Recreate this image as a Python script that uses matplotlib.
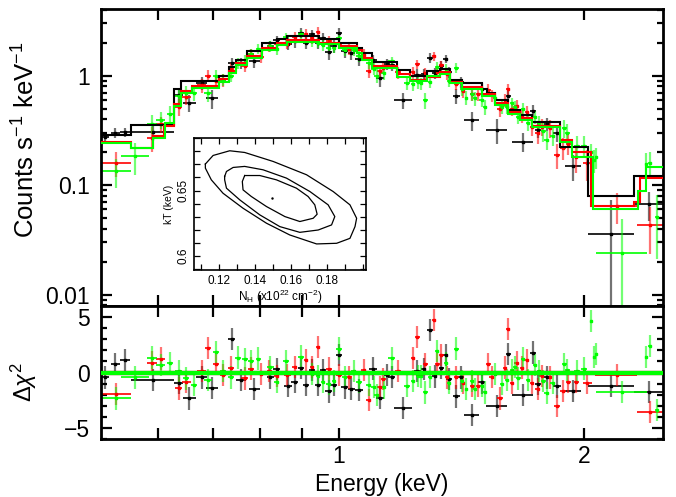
import matplotlib

matplotlib.use("Agg")
import matplotlib.pyplot as plt
from matplotlib import ticker

plt.rcParams["font.family"] = ["Liberation Sans", "DejaVu Sans"]
plt.rcParams["mathtext.fontset"] = "custom"
plt.rcParams["mathtext.rm"] = "Liberation Sans"
plt.rcParams["mathtext.it"] = "Liberation Sans:italic"
plt.rcParams["mathtext.bf"] = "Liberation Sans:bold"

# ---- model step curves (bin edges in keV, counts s^-1 keV^-1) ----
black_model_edges = [0.510, 0.555, 0.627, 0.639, 0.713, 0.733, 0.748, 0.771, 0.805, 0.838,
                     0.862, 0.946, 1.000, 1.051, 1.066, 1.099, 1.177, 1.221, 1.281, 1.329,
                     1.368, 1.415, 1.498, 1.519, 1.554, 1.613, 1.667, 1.725, 1.868, 2.020,
                     2.300, 2.500]
black_model = [0.285, 0.353, 0.757, 0.9, 1.0, 1.21, 1.4, 1.66, 1.98, 2.16, 2.31, 2.16, 1.98,
               1.8, 1.61, 1.32, 1.12, 1.0, 1.09, 1.15, 0.92, 0.86, 0.75, 0.7, 0.6, 0.49,
               0.44, 0.38, 0.225, 0.08, 0.121]

red_model_edges = [0.510, 0.555, 0.590, 0.610, 0.627, 0.639, 0.660, 0.713, 0.733, 0.748,
                   0.771, 0.805, 0.838, 0.862, 0.946, 1.000, 1.051, 1.066, 1.099, 1.177,
                   1.221, 1.281, 1.329, 1.368, 1.415, 1.498, 1.554, 1.613, 1.667, 1.725,
                   1.868, 1.930, 2.040, 2.300, 2.340, 2.500]
red_model = [0.248, 0.22, 0.279, 0.346, 0.55, 0.72, 0.81, 0.93, 1.1, 1.3, 1.52, 1.8, 2.0,
             2.12, 2.0, 1.85, 1.7, 1.45, 1.22, 1.03, 0.92, 0.98, 1.07, 0.87, 0.79, 0.68,
             0.56, 0.47, 0.41, 0.35, 0.26, 0.2, 0.065, 0.07, 0.116]

green_model_edges = [0.510, 0.555, 0.590, 0.612, 0.627, 0.639, 0.660, 0.713, 0.733, 0.748,
                     0.771, 0.805, 0.838, 0.862, 0.946, 1.000, 1.051, 1.066, 1.099, 1.177,
                     1.221, 1.281, 1.329, 1.368, 1.415, 1.498, 1.554, 1.613, 1.667, 1.725,
                     1.868, 1.930, 2.050, 2.330, 2.380, 2.500]
green_model = [0.241, 0.217, 0.27, 0.373, 0.53, 0.69, 0.77, 0.88, 1.05, 1.25, 1.45, 1.72,
               1.92, 2.04, 1.93, 1.78, 1.62, 1.4, 1.18, 0.98, 0.9, 1.0, 1.04, 0.85, 0.76,
               0.65, 0.54, 0.45, 0.39, 0.34, 0.25, 0.18, 0.061, 0.088, 0.146]

# ---- black spectrum ----
black_e = [0.516, 0.531, 0.546, 0.591, 0.635, 0.655, 0.678, 0.699, 0.738, 0.758, 0.787,
           0.823, 0.838, 0.865, 0.882, 0.898, 0.911, 0.926, 0.942, 0.955, 0.971, 0.985,
           1.000, 1.016, 1.035, 1.058, 1.100, 1.122, 1.145, 1.160, 1.198, 1.248, 1.270,
           1.293, 1.310, 1.336, 1.352, 1.365, 1.394, 1.410, 1.455, 1.497, 1.562, 1.614,
           1.681, 1.729, 1.754, 1.799, 1.851, 1.940, 2.160, 2.400]
black_de = [0.006, 0.007, 0.008, 0.036, 0.008, 0.012, 0.010, 0.012, 0.008, 0.010, 0.012,
            0.008, 0.008, 0.010, 0.008, 0.008, 0.008, 0.008, 0.008, 0.008, 0.010, 0.010,
            0.008, 0.010, 0.010, 0.012, 0.012, 0.012, 0.010, 0.012, 0.030, 0.012, 0.010,
            0.010, 0.010, 0.010, 0.010, 0.010, 0.015, 0.012, 0.030, 0.015, 0.045, 0.012,
            0.050, 0.015, 0.015, 0.015, 0.020, 0.045, 0.140, 0.100]
black_flux = [0.275, 0.30, 0.305, 0.305, 0.66, 0.565, 0.86, 0.62, 1.30, 1.30, 1.35, 1.88,
              2.10, 1.95, 2.05, 2.45, 1.98, 2.38, 2.0, 2.2, 1.65, 1.85, 2.44, 1.68, 1.6,
              1.42, 1.38, 0.95, 1.28, 1.25, 0.6, 1.02, 1.04, 1.45, 1.05, 1.22, 1.42, 1.07,
              0.65, 0.87, 0.39, 0.75, 0.32, 0.65, 0.25, 0.48, 0.32, 0.36, 0.30, 0.15,
              0.036, 0.067]
black_ferr = [0.03, 0.03, 0.03, 0.05, 0.10, 0.10, 0.12, 0.12, 0.15, 0.15, 0.17, 0.20, 0.20,
              0.25, 0.25, 0.25, 0.25, 0.25, 0.25, 0.25, 0.25, 0.25, 0.25, 0.22, 0.20, 0.20,
              0.17, 0.17, 0.15, 0.15, 0.10, 0.12, 0.12, 0.15, 0.12, 0.13, 0.13, 0.12, 0.10,
              0.10, 0.08, 0.10, 0.08, 0.07, 0.05, 0.06, 0.05, 0.05, 0.05, 0.04, 0.038, 0.02]
black_res = [-0.45, 0.75, 1.14, -0.66, -0.96, -2.34, -0.45, -1.41, 3.06, -0.66, -1.5, -0.45,
             0.3, -1.2, -0.84, 0.45, -1.14, 0.24, -1.14, 0.2, -1.71, -1.14, 1.56, -1.35,
             -1.5, -1.56, 0.36, -2.31, -0.2, -0.39, -3.21, 0.15, 0.3, 3.84, -0.36, 0.45,
             1.56, -0.6, -2.16, -0.45, -3.81, -0.9, -3.0, 1.65, -2.0, 1.8, -1.05, -0.45,
             -1.26, -1.65, -1.2, -1.74]

# ---- red spectrum ----
red_e = [0.532, 0.589, 0.604, 0.635, 0.649, 0.678, 0.691, 0.706, 0.721, 0.736, 0.766,
         0.780, 0.803, 0.821, 0.838, 0.864, 0.882, 0.911, 0.926, 0.942, 0.971, 1.000,
         1.028, 1.072, 1.087, 1.122, 1.133, 1.181, 1.233, 1.248, 1.277, 1.307, 1.321,
         1.336, 1.357, 1.394, 1.420, 1.457, 1.483, 1.525, 1.540, 1.576, 1.599, 1.614,
         1.630, 1.652, 1.676, 1.703, 1.725, 1.754, 1.774, 1.816, 1.851, 1.883, 1.913,
         1.956, 2.019, 2.195, 2.410]
red_de = [0.0225, 0.008, 0.008, 0.006, 0.008, 0.008, 0.006, 0.006, 0.006, 0.006, 0.008,
          0.006, 0.006, 0.006, 0.006, 0.008, 0.006, 0.006, 0.006, 0.006, 0.008, 0.008,
          0.008, 0.008, 0.008, 0.008, 0.008, 0.010, 0.008, 0.008, 0.008, 0.008, 0.008,
          0.008, 0.008, 0.008, 0.008, 0.010, 0.010, 0.010, 0.010, 0.012, 0.010, 0.010,
          0.010, 0.010, 0.010, 0.010, 0.010, 0.012, 0.012, 0.012, 0.015, 0.015, 0.015,
          0.015, 0.025, 0.130, 0.090]
red_flux = [0.16, 0.271, 0.36, 0.52, 0.64, 0.82, 1.0, 0.9, 0.91, 1.16, 1.22, 1.58, 1.49,
            1.83, 1.93, 1.95, 2.25, 2.4, 2.2, 2.5, 2.08, 1.95, 1.75, 1.55, 1.1, 1.1, 1.17,
            1.07, 1.08, 1.28, 1.05, 1.5, 1.08, 1.25, 1.03, 0.84, 0.72, 0.68, 0.68, 0.74,
            0.66, 0.5, 0.6, 0.75, 0.5, 0.53, 0.43, 0.47, 0.34, 0.3, 0.34, 0.33, 0.19, 0.22,
            0.24, 0.18, 0.16, 0.064, 0.0435]
red_ferr = [0.04, 0.07, 0.06, 0.09, 0.10, 0.12, 0.12, 0.12, 0.12, 0.13, 0.15, 0.16, 0.18,
            0.20, 0.20, 0.22, 0.25, 0.25, 0.25, 0.25, 0.22, 0.22, 0.20, 0.18, 0.15, 0.15,
            0.14, 0.13, 0.12, 0.12, 0.12, 0.13, 0.12, 0.12, 0.11, 0.10, 0.09, 0.09, 0.09,
            0.09, 0.08, 0.08, 0.08, 0.08, 0.07, 0.07, 0.06, 0.06, 0.06, 0.06, 0.06, 0.06,
            0.05, 0.05, 0.05, 0.05, 0.05, 0.02, 0.02]
red_res = [-1.95, 0.9, 1.26, -1.44, -0.84, 0.1, 2.19, 0.75, -0.2, 0.45, -0.54, 0.36, -0.15,
           0.15, -0.3, -0.24, 0.5, 1.11, 0.5, 2.31, 0.36, -0.2, -0.45, 0.2, -2.5, -1.35,
           -0.6, 0.15, 1.29, 3.21, 0.75, 4.74, 0.75, 1.59, -0.45, -0.45, -0.96, -1.2, -1.2,
           0.75, -0.39, -2.34, 0.45, 3.9, -0.96, 0.9, 0.45, 1.14, -0.96, -1.5, -0.3, -0.45,
           -3.0, -1.65, -0.84, -0.84, -0.96, -0.2, -3.6]

# ---- green spectrum ----
green_e = [0.532, 0.562, 0.589, 0.604, 0.620, 0.635, 0.649, 0.664, 0.691, 0.706, 0.721,
           0.736, 0.751, 0.766, 0.780, 0.796, 0.823, 0.838, 0.861, 0.898, 0.926, 0.942,
           0.955, 0.971, 0.985, 1.000, 1.016, 1.042, 1.058, 1.087, 1.103, 1.113, 1.135,
           1.160, 1.213, 1.233, 1.250, 1.260, 1.277, 1.293, 1.320, 1.352, 1.365, 1.394,
           1.415, 1.434, 1.457, 1.469, 1.497, 1.511, 1.554, 1.585, 1.607, 1.630, 1.644,
           1.661, 1.681, 1.708, 1.740, 1.762, 1.782, 1.799, 1.830, 1.892, 1.908, 1.960,
           2.000, 2.039, 2.058, 2.070, 2.227, 2.385, 2.407, 2.459]
green_de = [0.0225, 0.022, 0.008, 0.008, 0.006, 0.006, 0.006, 0.006, 0.008, 0.006, 0.006,
            0.006, 0.006, 0.006, 0.006, 0.006, 0.008, 0.006, 0.008, 0.008, 0.006, 0.006,
            0.006, 0.006, 0.006, 0.008, 0.008, 0.008, 0.008, 0.008, 0.008, 0.008, 0.008,
            0.010, 0.010, 0.008, 0.008, 0.008, 0.008, 0.008, 0.008, 0.008, 0.008, 0.008,
            0.008, 0.008, 0.008, 0.008, 0.010, 0.010, 0.010, 0.010, 0.010, 0.010, 0.010,
            0.010, 0.010, 0.010, 0.010, 0.010, 0.012, 0.012, 0.012, 0.012, 0.012, 0.015,
            0.015, 0.008, 0.008, 0.008, 0.160, 0.010, 0.010, 0.015]
green_flux = [0.135, 0.185, 0.364, 0.395, 0.45, 0.65, 0.70, 0.69, 0.7, 0.985, 0.92, 1.0,
              1.3, 1.4, 1.58, 1.75, 1.85, 1.75, 2.25, 2.38, 2.05, 2.0, 1.9, 1.78, 1.8, 2.2,
              1.72, 1.7, 1.5, 1.3, 1.15, 1.0, 1.05, 1.35, 0.85, 0.84, 0.87, 0.85, 0.6, 0.88,
              1.2, 1.15, 0.9, 1.18, 0.75, 0.63, 0.68, 0.62, 0.6, 0.52, 0.63, 0.52, 0.52,
              0.56, 0.52, 0.42, 0.5, 0.37, 0.42, 0.37, 0.31, 0.26, 0.28, 0.33, 0.3, 0.23,
              0.23, 0.2, 0.17, 0.18, 0.024, 0.155, 0.16, 0.051]
green_ferr = [0.04, 0.06, 0.07, 0.07, 0.08, 0.10, 0.10, 0.10, 0.12, 0.13, 0.12, 0.13, 0.15,
              0.15, 0.17, 0.18, 0.20, 0.20, 0.22, 0.25, 0.22, 0.22, 0.22, 0.20, 0.20, 0.22,
              0.20, 0.18, 0.17, 0.15, 0.14, 0.14, 0.13, 0.13, 0.11, 0.11, 0.11, 0.11, 0.10,
              0.11, 0.12, 0.12, 0.11, 0.12, 0.10, 0.09, 0.09, 0.09, 0.08, 0.08, 0.08, 0.07,
              0.07, 0.07, 0.07, 0.06, 0.06, 0.06, 0.06, 0.06, 0.06, 0.05, 0.05, 0.06, 0.06,
              0.05, 0.05, 0.04, 0.04, 0.04, 0.025, 0.04, 0.04, 0.03]
green_res = [-2.34, -0.45, 1.35, 0.69, 0.84, 0.15, -0.54, -1.11, -0.69, 1.86, 0.1, -0.45,
             1.35, 1.2, 1.05, 1.26, 0.51, -0.84, 1.05, 1.44, -0.15, -0.3, -0.84, -1.05,
             -0.75, 2.16, -0.45, 0.1, -0.84, -1.11, -1.29, -2.0, -1.35, 1.29, -1.2, -0.75,
             -0.3, -0.36, -1.8, -0.39, 1.95, 0.84, -0.96, 2.16, -0.75, -1.5, -0.75, -1.5,
             -1.2, -1.8, -0.15, -1.05, -0.66, 0.2, 0.5, -0.54, 1.26, -0.66, 0.66, 0.15,
             -0.75, -1.86, -0.96, 0.75, 0.24, 0.15, 0.36, 4.65, 1.41, 1.65, -1.74, 1.41,
             2.4, -3.36]

# ---- confidence contours (N_H in 1e22 cm^-2, kT in keV) ----
c3_nh = [0.1126, 0.1169, 0.1261, 0.1344, 0.1502, 0.1687, 0.1835, 0.1928, 0.1965, 0.1956,
         0.1928, 0.1854, 0.1743, 0.1594, 0.1465, 0.1335, 0.1224, 0.1159, 0.1126, 0.1126]
c3_kt = [0.6703, 0.6769, 0.6805, 0.6792, 0.6723, 0.6621, 0.6492, 0.6390, 0.6287, 0.6223,
         0.6133, 0.6095, 0.6090, 0.6159, 0.6249, 0.6364, 0.6479, 0.6582, 0.6672, 0.6703]
c2_nh = [0.1233, 0.1243, 0.1280, 0.1344, 0.1446, 0.1576, 0.1706, 0.1807, 0.1844, 0.1826,
         0.1752, 0.1650, 0.1539, 0.1428, 0.1317, 0.1243, 0.1233, 0.1233]
c2_kt = [0.6608, 0.6646, 0.6677, 0.6685, 0.6659, 0.6595, 0.6492, 0.6390, 0.6300, 0.6236,
         0.6197, 0.6179, 0.6223, 0.6313, 0.6428, 0.6518, 0.6582, 0.6608]
c1_nh = [0.1344, 0.1428, 0.1520, 0.1631, 0.1696, 0.1733, 0.1746, 0.1724, 0.1650, 0.1567,
         0.1465, 0.1381, 0.1335, 0.1331, 0.1344]
c1_kt = [0.6615, 0.6615, 0.6582, 0.6518, 0.6454, 0.6390, 0.6318, 0.6287, 0.6262, 0.6300,
         0.6377, 0.6454, 0.6505, 0.6569, 0.6615]
best_nh = [0.1493]
best_kt = [0.6446]

W, H = 676, 497
fig = plt.figure(figsize=(W / 100, H / 100), dpi=100, facecolor="white")
ax = fig.add_axes([101 / W, 1 - 306 / H, 562 / W, 297 / H])
axr = fig.add_axes([101 / W, 1 - 439 / H, 562 / W, 133 / H], sharex=ax)

sets = [
    ("#000000", black_model_edges, black_model, black_e, black_de, black_flux, black_ferr, black_res),
    ("#ff0000", red_model_edges, red_model, red_e, red_de, red_flux, red_ferr, red_res),
    ("#00ff00", green_model_edges, green_model, green_e, green_de, green_flux, green_ferr, green_res),
]

for col, medges, mvals, e, de, flux, ferr, res in sets:
    ax.stairs(mvals, medges, color=col, lw=1.5, zorder=3, baseline=None)
    ax.errorbar(e, flux, yerr=ferr, fmt="none", ecolor=col, elinewidth=1.6,
                alpha=0.55, zorder=2)
    ax.errorbar(e, flux, xerr=de, fmt="s", ms=1.7, color=col, mec=col,
                elinewidth=1.2, zorder=2)
    axr.errorbar(e, res, yerr=1.0, fmt="none", ecolor=col, elinewidth=1.6,
                 alpha=0.55, zorder=2)
    axr.errorbar(e, res, xerr=de, fmt="s", ms=1.7, color=col, mec=col,
                 elinewidth=1.2, zorder=2)
    axr.axhline(0, color=col, lw=3, zorder=3)

ax.set_xscale("log")
ax.set_yscale("log")
ax.set_xlim(0.51, 2.5)
ax.set_ylim(0.0079, 4.05)
axr.set_ylim(-6, 6)

for a in (ax, axr):
    a.xaxis.set_major_locator(ticker.FixedLocator([1, 2]))
    a.xaxis.set_minor_locator(ticker.FixedLocator([0.6, 0.7, 0.8, 0.9]))
    a.xaxis.set_minor_formatter(ticker.NullFormatter())
    a.tick_params(which="both", direction="in", top=True, right=True, width=1.6,
                  labelsize=16.5)
    a.tick_params(which="major", length=8)
    a.tick_params(axis="x", which="minor", length=8)
    a.tick_params(axis="y", which="minor", length=4)
    a.tick_params(axis="y", which="both", pad=8)
    a.tick_params(axis="x", which="both", pad=4)
    for s in a.spines.values():
        s.set_linewidth(2)

ax.xaxis.set_major_formatter(ticker.NullFormatter())
ax.tick_params(labelbottom=False)
axr.xaxis.set_major_formatter(ticker.FixedFormatter(["1", "2"]))
ax.yaxis.set_major_locator(ticker.LogLocator(base=10, numticks=10))
ax.yaxis.set_minor_locator(ticker.LogLocator(base=10, subs=range(2, 10), numticks=20))
ax.yaxis.set_major_formatter(ticker.FuncFormatter(lambda v, p: f"{v:g}"))
ax.yaxis.set_minor_formatter(ticker.NullFormatter())
axr.yaxis.set_major_locator(ticker.MultipleLocator(5))
axr.yaxis.set_minor_locator(ticker.MultipleLocator(1))

ax.set_ylabel("Counts s$^{-1}$ keV$^{-1}$", fontsize=18.5)
axr.set_ylabel(r"$\Delta\chi^2$", fontsize=17)
axr.set_xlabel("Energy (keV)", fontsize=16.5, labelpad=4)
ax.yaxis.set_label_coords(-0.11, 0.56)
axr.yaxis.set_label_coords(-0.11, 0.43)

# inset: confidence contours
ins = fig.add_axes([194 / W, 1 - 270 / H, 172 / W, 132 / H], zorder=5)
ins.set_facecolor("white")
for cx, cy in ((c3_nh, c3_kt), (c2_nh, c2_kt), (c1_nh, c1_kt)):
    ins.plot(cx, cy, color="black", lw=0.9)
ins.plot(best_nh, best_kt, marker=".", ms=1.5, color="black", ls="none")
ins.set_xlim(0.1063, 0.2017)
ins.set_ylim(0.589, 0.6903)
ins.xaxis.set_major_locator(ticker.FixedLocator([0.12, 0.14, 0.16, 0.18]))
ins.xaxis.set_minor_locator(ticker.MultipleLocator(0.01))
ins.yaxis.set_major_locator(ticker.FixedLocator([0.6, 0.65]))
ins.yaxis.set_minor_locator(ticker.MultipleLocator(0.01))
ins.xaxis.set_major_formatter(ticker.FuncFormatter(lambda v, p: f"{v:.2f}"))
ins.yaxis.set_major_formatter(ticker.FuncFormatter(lambda v, p: f"{v:g}"))
ins.tick_params(which="both", direction="in", top=True, right=True, width=0.9,
                labelsize=8.5)
ins.tick_params(which="major", length=4)
ins.tick_params(which="minor", length=4)
for lab in ins.get_yticklabels():
    lab.set_rotation(90)
    lab.set_va("center")
for s in ins.spines.values():
    s.set_linewidth(1.2)
ins.set_xlabel("N$_{\\rm H}$ (x10$^{22}$ cm$^{-2}$)", fontsize=8.5, labelpad=1)
ins.set_ylabel("kT (keV)", fontsize=7.5, labelpad=2)

fig.savefig("out.png", dpi=100, facecolor="white")
